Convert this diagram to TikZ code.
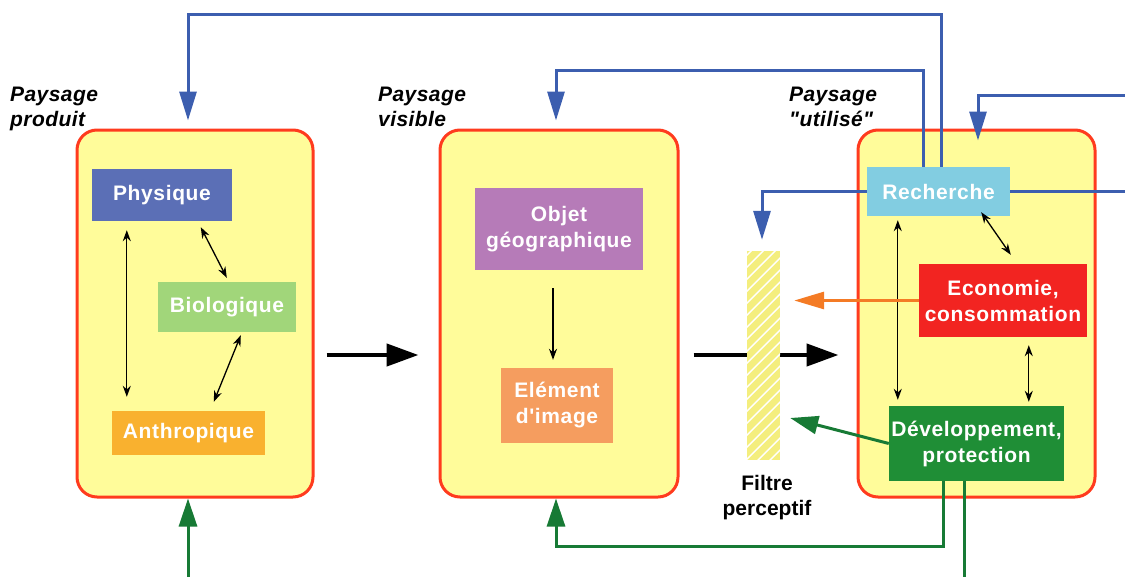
\documentclass[tikz,border=0pt]{standalone}
\usepackage{fontspec}
\setmainfont{Liberation Sans}[Ligatures=TeXOff]
\usetikzlibrary{arrows.meta,calc}
\definecolor{boxyellow}{HTML}{FFFC9A}
\definecolor{boxred}{HTML}{FF3B1E}
\definecolor{cPhys}{HTML}{5B6FB6}
\definecolor{cBio}{HTML}{A1D67A}
\definecolor{cAnth}{HTML}{F9B12F}
\definecolor{cObj}{HTML}{B67BB8}
\definecolor{cElem}{HTML}{F59D5F}
\definecolor{cRech}{HTML}{82CDE1}
\definecolor{cEco}{HTML}{F22421}
\definecolor{cDev}{HTML}{1F8E36}
\definecolor{lblue}{HTML}{3C5EAF}
\definecolor{lgreen}{HTML}{177A35}
\definecolor{lorange}{HTML}{F47B25}
\definecolor{cFilt}{HTML}{F4EE7E}
\tikzset{
  bigbox/.style={draw=boxred, line width=3pt, fill=boxyellow, rounded corners=20pt},
  inbox/.style={inner sep=0pt, text=white, align=center,
    font=\addfontfeatures{LetterSpace=3}\bfseries\fontsize{21}{26}\selectfont},
  title/.style={inner sep=0pt, anchor=north west, align=left,
    font=\addfontfeatures{LetterSpace=2}\bfseries\itshape\fontsize{21}{25}\selectfont},
  dblarrow/.style={line width=1.3pt, {Stealth[length=11pt,width=8pt]}-{Stealth[length=11pt,width=8pt]}},
  onearrow/.style={line width=1.3pt, -{Stealth[length=11pt,width=8pt]}},
  bigarrow/.style={line width=4.5pt, -{Triangle[length=32pt,width=22pt]}},
  bluearrow/.style={draw=lblue, line width=3pt, -{Triangle[length=29pt,width=17pt]}},
  blueline/.style={draw=lblue, line width=3pt},
  greenarrow/.style={draw=lgreen, line width=3pt, -{Triangle[length=28pt,width=18pt]}},
  orangearrow/.style={draw=lorange, line width=3pt, -{Triangle[length=30pt,width=17pt]}},
}
\begin{document}
\begin{tikzpicture}[x=1pt,y=-1pt]
\useasboundingbox (0,0) rectangle (1125,576);
\clip (0,0) rectangle (1125,576);

% big boxes
\node[bigbox, minimum width=236pt, minimum height=367pt] (big1) at (195,313.5) {};
\node[bigbox, minimum width=238pt, minimum height=367pt] (big2) at (559,313.5) {};
\node[bigbox, minimum width=237pt, minimum height=367pt] (big3) at (976.5,313.5) {};

% titles
\node[title] (t1) at (10,87) {Paysage\\produit};
\node[title] (t2) at (378,87) {Paysage\\visible};
\node[title] (t3) at (789,87) {Paysage\\"utilisé"};

% inner boxes
\node[inbox, fill=cPhys, minimum width=140pt, minimum height=52pt] (phys) at (162,195) {Physique};
\node[inbox, fill=cBio, minimum width=138pt, minimum height=50pt] (bio) at (227,307) {Biologique};
\node[inbox, fill=cAnth, minimum width=153pt, minimum height=44pt] (anth) at (188.5,433) {Anthropique};
\node[inbox, fill=cObj, minimum width=168pt, minimum height=82pt] (obj) at (559,229) {Objet\\géographique};
\node[inbox, fill=cElem, minimum width=112pt, minimum height=75pt] (elem) at (557,405.5) {Elément\\d'image};
\node[inbox, fill=cRech, minimum width=143pt, minimum height=49pt] (rech) at (938.5,191.5) {Recherche};
\node[inbox, fill=cEco, minimum width=168pt, minimum height=73pt] (eco) at (1003,300.5) {Economie,\\consommation};
\node[inbox, fill=cDev, minimum width=175pt, minimum height=75pt] (dev) at (976.5,443.5) {Développement,\\protection};

% inner arrows
\draw[dblarrow] ($(phys.south west)+(35,9)$) -- ($(anth.north west)+(15,-14)$);
\draw[dblarrow] ($(phys.south west)+(109,6)$) -- ($(bio.north west)+(69,-4)$);
\draw[dblarrow] ($(bio.south west)+(83,3)$) -- ($(anth.north west)+(102,-9)$);
\draw[onearrow] ($(obj.south)+(-6,18)$) -- ($(elem.north)+(-4,-8)$);
\draw[dblarrow] ($(rech.south west)+(31,4)$) -- ($(dev.north west)+(9,-6)$);
\draw[dblarrow] ($(rech.south east)+(-29,-4)$) -- ($(eco.north west)+(92,-9)$);
\draw[dblarrow] ($(eco.south west)+(110,8)$) -- ($(dev.north west)+(140,-4)$);

% big black arrows
\coordinate (ymid) at (0,355);
\draw[bigarrow] ($(big1.east |- ymid)+(12,0)$) -- ($(big2.west |- ymid)+(-20,0)$);
\draw[bigarrow] ($(big2.east |- ymid)+(14,0)$) -- ($(big3.west |- ymid)+(-18,0)$);

% filter
\node[fill=cFilt, inner sep=0pt, minimum width=33pt, minimum height=209pt] (filt) at (763.5,355.5) {};
\begin{scope}
  \clip (filt.south west) rectangle (filt.north east);
  \foreach \yy in {245,257,...,510}
    \draw[white, line width=1.4pt] (745,\yy) -- ++(40,-40);
\end{scope}
\node[inner sep=0pt, anchor=north, align=center, font=\bfseries\fontsize{21}{25}\selectfont] (flab) at (767,475) {Filtre\\perceptif};

% blue connectors
\coordinate (ytop) at (0,14);
\coordinate (ysec) at (0,70);
\coordinate (r3) at (1125,95);
\coordinate (rr) at (1125,191.5);
\coordinate (b1n) at ($(big1.north)+(-7,-8)$);
\coordinate (b2n) at ($(big2.north)+(-3,-8)$);
\coordinate (b3n) at ($(big3.north)+(1.5,12)$);
\coordinate (rA) at ($(rech.north)+(2.5,0)$);
\coordinate (rB) at ($(rech.north)+(-15.5,0)$);
\coordinate (fn) at ($(filt.north)+(-1.5,-11)$);
\draw[bluearrow] (rA) -- (rA |- ytop) -| (b1n);
\draw[bluearrow] (rB) -- (rB |- ysec) -| (b2n);
\draw[bluearrow] (r3) -| (b3n);
\draw[bluearrow] (rech.west) -| (fn);
\draw[blueline] (rech.east) -- (rr);

% orange and green to filter
\coordinate (fo) at ($(filt.east)+(14,0)$);
\draw[orangearrow] (eco.west) -- (eco.west -| fo);
\draw[greenarrow] (dev.west) -- ($(filt.east)+(10,62.5)$);

% green connectors below
\coordinate (yg1) at (0,546);
\coordinate (yg2) at (0,578);
\coordinate (dA) at ($(dev.south)+(-33.5,0)$);
\coordinate (dB) at ($(dev.south)+(-12.5,0)$);
\coordinate (b2s) at ($(big2.south)+(-3,0)$);
\coordinate (b1s) at ($(big1.south)+(-7,0)$);
\draw[greenarrow] (dA) -- (dA |- yg1) -| (b2s);
\draw[greenarrow] (dB) -- (dB |- yg2) -| (b1s);
\end{tikzpicture}
\end{document}
